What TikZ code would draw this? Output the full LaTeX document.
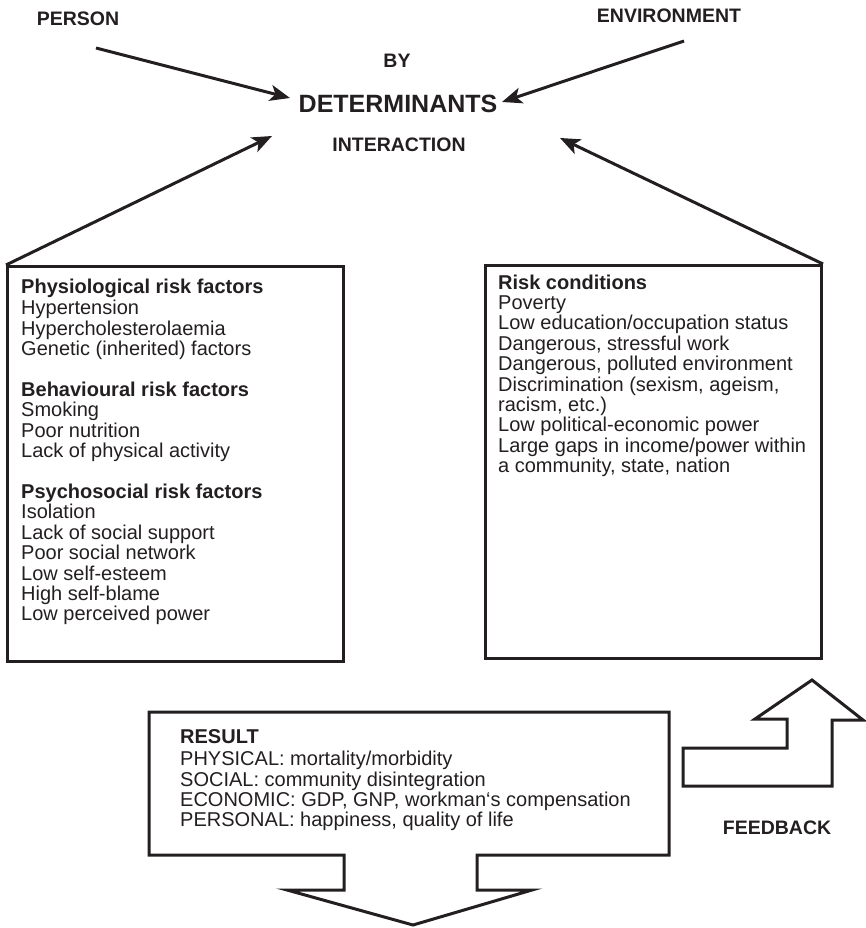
\documentclass[tikz,border=0pt]{standalone}
\usepackage{fontspec}
\setmainfont{Liberation Sans}
\usetikzlibrary{arrows.meta}
\definecolor{ink}{RGB}{35,31,32}
\begin{document}
\begin{tikzpicture}[x=1pt,y=-1pt,
  lbl/.style={font=\fontsize{19.5}{20}\selectfont\bfseries, text=ink, inner sep=0},
  biglbl/.style={font=\fontsize{25}{27}\selectfont\bfseries, text=ink, inner sep=0},
  body/.style={font=\fontsize{20}{20.4}\selectfont, text=ink, inner sep=0, align=left, anchor=north west},
  boxframe/.style={draw=ink, line width=3pt, rectangle, inner sep=0, anchor=north west},
  outline/.style={draw=ink, line width=3pt, line join=miter},
  arr/.style={draw=ink, line width=3pt, -{Stealth[length=20pt,width=16pt,inset=5pt]}}]
\useasboundingbox (0,0) rectangle (866,928);

% top labels
\node[lbl] (person) at (78,19) {PERSON};
\node[lbl] (env) at (669,16) {ENVIRONMENT};
\node[lbl] (by) at (397,61) {BY};
\node[biglbl] (det) at (398,104) {DETERMINANTS};
\node[lbl] (inter) at (399,145) {INTERACTION};
\node[lbl] (feed) at (777,828) {FEEDBACK};

% arrow ends
\coordinate (pstart) at (96,48);
\coordinate (ptip) at (290,98);
\coordinate (estart) at (684,41);
\coordinate (etip) at (502,102);
\coordinate (ltip) at (272,136);
\coordinate (rtip) at (560,138);

% boxes
\node[boxframe, minimum width=336pt, minimum height=395pt] (lbox) at (6,265) {};
\node[boxframe, minimum width=336pt, minimum height=393pt] (rbox) at (484,264) {};

\node[body] (ltext) at (21,278.5) {\strut\textbf{Physiological risk factors}\\
Hypertension\\
Hypercholesterolaemia\\
Genetic (inherited) factors\\[20.4pt]
\textbf{Behavioural risk factors}\\
Smoking\\
Poor nutrition\\
Lack of physical activity\\[20.4pt]
\textbf{Psychosocial risk factors}\\
Isolation\\
Lack of social support\\
Poor social network\\
Low self-esteem\\
High self-blame\\
Low perceived power};

\node[body] (rtext) at (498,274.5) {\strut\textbf{Risk conditions}\\
Poverty\\
Low education/occupation status\\
Dangerous, stressful work\\
Dangerous, polluted environment\\
Discrimination (sexism, ageism,\\
racism, etc.)\\
Low political-economic power\\
Large gaps in income/power within\\
a community, state, nation};

% connectors
\draw[arr] (pstart) -- (ptip);
\draw[arr] (estart) -- (etip);
\draw[arr] (lbox.north west) -- (ltip);
\draw[arr] (rbox.north east) -- (rtip);

% result box with down arrow
\draw[outline] (149,712) -- (669,712) -- (669,855) -- (477,855) -- (477,890)
  -- (532,890) -- (413,925) -- (287,890) -- (344,890) -- (344,855) -- (149,855) -- cycle;
\node[body] (restext) at (180,729.5) {\strut\textbf{RESULT}\\
PHYSICAL: mortality/morbidity\\
SOCIAL: community disintegration\\
ECONOMIC: GDP, GNP, workman‘s compensation\\
PERSONAL: happiness, quality of life};

% feedback arrow
\draw[outline] (812,680) -- (863,720) -- (832,720) -- (832,786) -- (683,786)
  -- (683,748) -- (787,748) -- (787,719) -- (755,719) -- cycle;
\end{tikzpicture}
\end{document}
